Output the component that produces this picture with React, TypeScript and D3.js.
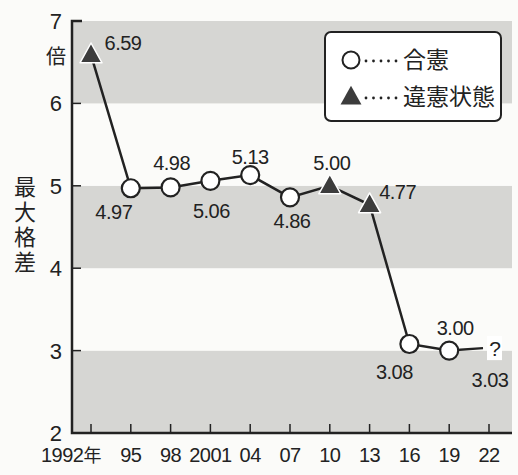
import React from 'react';
import * as d3 from 'd3';

// 衆院選の一票の格差（最大格差）
const years = [1992, 1995, 1998, 2001, 2004, 2007, 2010, 2013, 2016, 2019, 2022];
const values = [6.59, 4.97, 4.98, 5.06, 5.13, 4.86, 5.0, 4.77, 3.08, 3.0, 3.03];
const rulings = ['違憲状態', '合憲', '合憲', '合憲', '合憲', '合憲', '違憲状態', '違憲状態', '合憲', '合憲', '?'];
const xTickLabels = ['1992', '95', '98', '2001', '04', '07', '10', '13', '16', '19', '22'];
const yTicks = [2, 3, 4, 5, 6, 7];
const legendItems = ['合憲', '違憲状態'];

// where each value label sits relative to its marker
const labelOffsets: [number, number][] = [
  [32, -12], [-17, 24], [1, -25], [1, 30], [0, -18], [2, 23],
  [2, -23], [28, -13], [-15, 28], [6, -23], [1, 32],
];

const W = 518;
const H = 475;
const margin = { top: 21, right: 6, bottom: 42, left: 72 };
const font = '"Liberation Sans", Arial, sans-serif';
const cjk = '"Noto Sans CJK JP", sans-serif';

export default function App() {
  const y = d3.scaleLinear().domain([2, 7]).range([H - margin.bottom, margin.top]);
  const x = d3.scaleLinear().domain([1992, 2022]).range([91, 489]);
  const right = W - margin.right;
  const left = margin.left;

  const line = d3.line<number>()
    .x((_, i) => x(years[i]))
    .y((d) => y(d));

  const tri = (cx: number, cy: number, s: number) =>
    `M${cx},${cy - s * 0.62}L${cx + s * 0.58},${cy + s * 0.42}L${cx - s * 0.58},${cy + s * 0.42}Z`;

  // stop the line at the "?" mark
  const pts = values.slice(0, -1);
  const lastX = x(years[years.length - 1]) - 6;
  const lastY = y(values[values.length - 1]);

  return (
    <svg width={W} height={H} style={{ position: 'absolute', left: 0, top: 0, background: '#fbfbf9' }}>
      {/* bands */}
      {yTicks.slice(0, -1).map((t, i) => (
        <rect
          key={t}
          x={left}
          y={y(t + 1)}
          width={right - left}
          height={y(t) - y(t + 1)}
          fill={i % 2 === 0 ? '#d6d6d3' : '#fbfbf9'}
        />
      ))}

      {/* axes */}
      <path
        d={`M${left + 10},${y(7)}H${left}V${y(2)}H${right}`}
        fill="none"
        stroke="#222"
        strokeWidth={2.5}
      />
      {yTicks.slice(1, -1).map((t) => (
        <line key={t} x1={left} x2={left + 9} y1={y(t)} y2={y(t)} stroke="#222" strokeWidth={1.5} />
      ))}
      {yTicks.map((t) => (
        <text key={t} x={62} y={y(t)} dy="0.36em" textAnchor="end" fontFamily={font} fontSize={22} fill="#222">
          {t}
        </text>
      ))}
      {years.map((yr, i) => (
        <g key={yr}>
          <line x1={x(yr)} x2={x(yr)} y1={y(2)} y2={y(2) - 9} stroke="#222" strokeWidth={1.5} />
          <text
            x={x(yr) + (i === 0 ? -20 : 0)}
            y={y(2) + 29}
            textAnchor="middle"
            fontFamily={font}
            fontSize={20}
            fill="#222"
            letterSpacing={-0.5}
          >
            {xTickLabels[i]}
            {i === 0 && <tspan fontFamily={cjk} fontSize={18}>年</tspan>}
          </text>
        </g>
      ))}

      {/* axis titles */}
      <text x={56} y={57} dy="0.36em" textAnchor="middle" fontFamily={cjk} fontSize={20} fill="#222">倍</text>
      <text
        x={25}
        y={176}
        style={{ writingMode: 'vertical-rl' }}
        fontFamily={cjk}
        fontSize={22}
        letterSpacing={3}
        fill="#222"
      >
        最大格差
      </text>

      {/* series */}
      <path d={line(pts) ?? ''} fill="none" stroke="#222" strokeWidth={2.5} />
      <line x1={x(years[9])} y1={y(values[9])} x2={lastX} y2={lastY} stroke="#222" strokeWidth={2.5} />

      {values.map((v, i) => {
        const cx = x(years[i]);
        const cy = y(v);
        const [dx, dy] = labelOffsets[i];
        return (
          <g key={years[i]}>
            {rulings[i] === '合憲' && (
              <circle cx={cx} cy={cy} r={9} fill="#fff" stroke="#222" strokeWidth={2.2} />
            )}
            {rulings[i] === '違憲状態' && (
              <path d={tri(cx, cy, 19)} fill="#3c3c3c" stroke="#fff" strokeWidth={1.5} strokeLinejoin="round" />
            )}
            {rulings[i] === '?' && (
              <g>
                <rect x={cx - 2} y={cy - 12} width={15} height={24} fill="#fff" />
                <text x={cx + 6} y={cy} dy="0.36em" textAnchor="middle" fontFamily={font} fontSize={21} fill="#222">?</text>
              </g>
            )}
            <text
              x={cx + dx}
              y={cy + dy}
              dy="0.36em"
              textAnchor="middle"
              fontFamily={font}
              fontSize={20}
              fill="#222"
              letterSpacing={-0.5}
            >
              {v.toFixed(2)}
            </text>
          </g>
        );
      })}

      {/* legend */}
      <rect x={325} y={32} width={176} height={89} rx={6} fill="#fff" stroke="#222" strokeWidth={2} />
      {legendItems.map((name, i) => {
        const ly = 60 + i * 37;
        return (
          <g key={name}>
            {i === 0 ? (
              <circle cx={351} cy={ly} r={8.5} fill="#fff" stroke="#222" strokeWidth={2} />
            ) : (
              <path d={tri(351, ly, 18)} fill="#3c3c3c" />
            )}
            {d3.range(5).map((k) => (
              <circle key={k} cx={366 + k * 7.5} cy={ly + 1} r={1.4} fill="#222" />
            ))}
            <text x={403} y={ly} dy="0.36em" fontFamily={cjk} fontSize={23} fill="#222">
              {name}
            </text>
          </g>
        );
      })}
    </svg>
  );
}
